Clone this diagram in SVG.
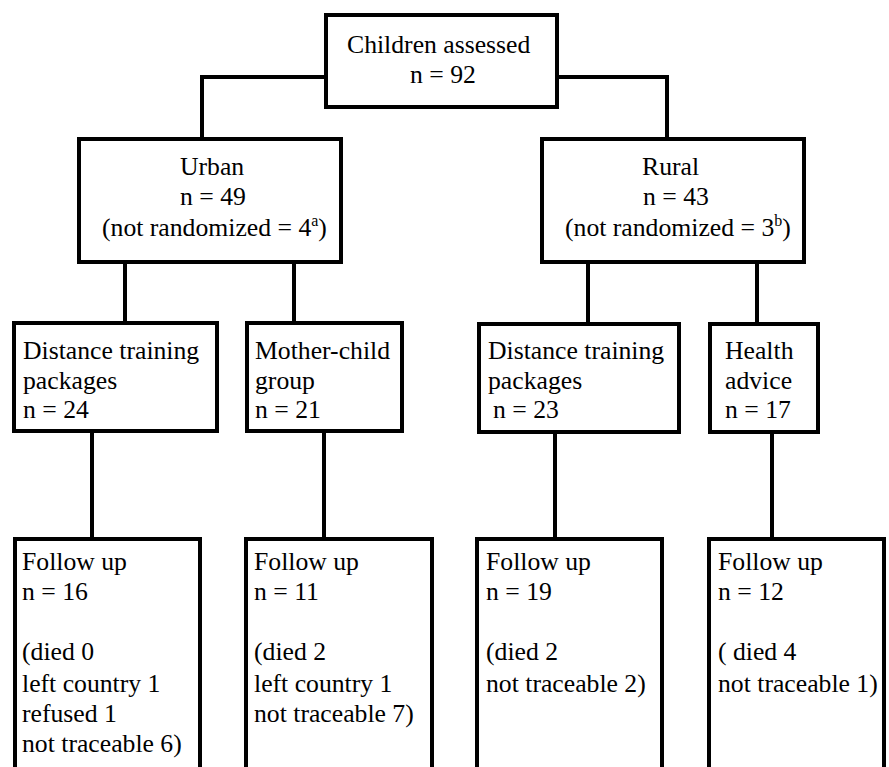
<svg xmlns="http://www.w3.org/2000/svg" width="889" height="767" viewBox="0 0 889 767">
<style>
.box{fill:#fff;stroke:#000;stroke-width:4}
.ln{fill:none;stroke:#000;stroke-width:4}
text{font-family:"Liberation Serif","Times New Roman",serif;font-size:25.7px;fill:#000}
.sup{font-size:16px}
</style>
<rect width="889" height="767" fill="#fff"/>
<g id="connectors">
<polyline class="ln" points="202,139 202,77 326,77"/>
<polyline class="ln" points="557,77 667,77 667,139"/>
<line class="ln" x1="125" y1="262" x2="125" y2="323"/>
<line class="ln" x1="294" y1="262" x2="294" y2="323"/>
<line class="ln" x1="588" y1="262" x2="588" y2="323"/>
<line class="ln" x1="757" y1="262" x2="757" y2="323"/>
<line class="ln" x1="92" y1="431" x2="92" y2="539"/>
<line class="ln" x1="324" y1="431" x2="324" y2="539"/>
<line class="ln" x1="555" y1="432" x2="555" y2="539"/>
<line class="ln" x1="772" y1="432" x2="772" y2="539"/>
</g>
<g id="children">
<rect class="box" x="326" y="15" width="231" height="92"/>
<text x="347" y="53">Children assessed</text>
<text x="410" y="83">n = 92</text>
</g>
<g id="urban">
<rect class="box" x="79" y="139" width="262" height="123"/>
<text x="180" y="175">Urban</text>
<text x="180" y="205">n = 49</text>
<text x="102" y="236">(not randomized = 4<tspan class="sup" dy="-10">a</tspan><tspan dy="10">)</tspan></text>
</g>
<g id="rural">
<rect class="box" x="542" y="139" width="262" height="123"/>
<text x="642" y="175">Rural</text>
<text x="643" y="205">n = 43</text>
<text x="565" y="236">(not randomized = 3<tspan class="sup" dy="-10">b</tspan><tspan dy="10">)</tspan></text>
</g>
<g id="urban-dtp">
<rect class="box" x="14" y="323" width="203" height="108"/>
<text x="23" y="359">Distance training</text>
<text x="23" y="389">packages</text>
<text x="23" y="418">n = 24</text>
</g>
<g id="mother-child">
<rect class="box" x="247" y="323" width="155" height="108"/>
<text x="255" y="359">Mother-child</text>
<text x="255" y="389">group</text>
<text x="255" y="418">n = 21</text>
</g>
<g id="rural-dtp">
<rect class="box" x="479" y="324" width="200" height="108"/>
<text x="488" y="359">Distance training</text>
<text x="488" y="389">packages</text>
<text x="493" y="418">n = 23</text>
</g>
<g id="health">
<rect class="box" x="710" y="324" width="108" height="108"/>
<text x="725" y="359">Health</text>
<text x="725" y="389">advice</text>
<text x="725" y="418">n = 17</text>
</g>
<g id="fu1">
<rect class="box" x="15" y="539" width="185" height="250"/>
<text x="22" y="570">Follow up</text>
<text x="22" y="600">n = 16</text>
<text x="22" y="660">(died 0</text>
<text x="22" y="692">left country 1</text>
<text x="22" y="722">refused 1</text>
<text x="22" y="752">not traceable 6)</text>
</g>
<g id="fu2">
<rect class="box" x="246" y="539" width="186" height="250"/>
<text x="254" y="570">Follow up</text>
<text x="254" y="600">n = 11</text>
<text x="254" y="660">(died 2</text>
<text x="254" y="692">left country 1</text>
<text x="254" y="722">not traceable 7)</text>
</g>
<g id="fu3">
<rect class="box" x="477" y="539" width="185" height="250"/>
<text x="486" y="570">Follow up</text>
<text x="486" y="600">n = 19</text>
<text x="486" y="660">(died 2</text>
<text x="486" y="692">not traceable 2)</text>
</g>
<g id="fu4">
<rect class="box" x="709" y="539" width="175" height="250"/>
<text x="718" y="570">Follow up</text>
<text x="718" y="600">n = 12</text>
<text x="718" y="660">( died 4</text>
<text x="718" y="692">not traceable 1)</text>
</g>
</svg>
